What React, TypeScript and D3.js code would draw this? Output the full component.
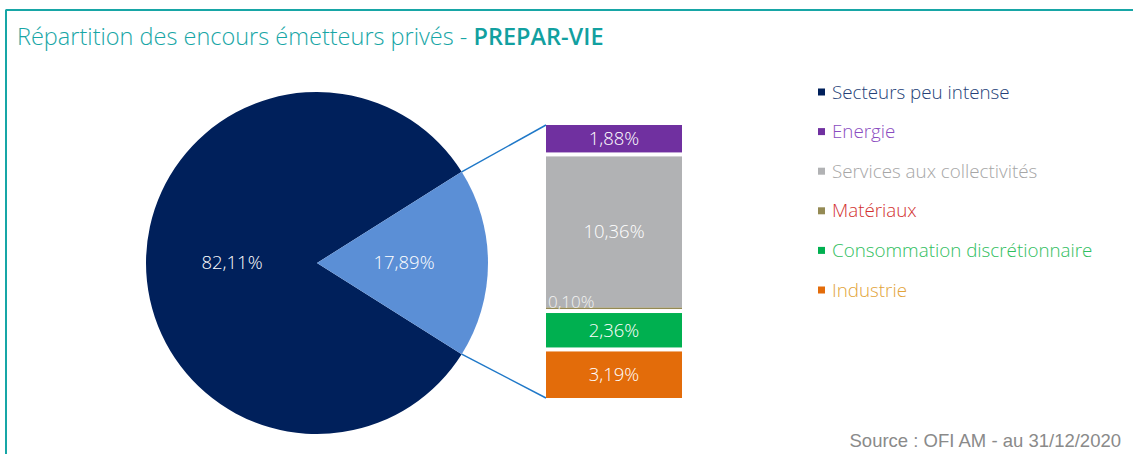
import React from "react";
import * as d3 from "d3";

// pie data
const pieLabels = ["Secteurs peu intense", "Autres"];
const pieValues = [82.11, 17.89];
const pieTexts = ["82,11%", "17,89%"];
const pieColors = ["#00205b", "#5b8fd6"];

// stacked breakdown of the 17,89% slice
const barLabels = ["Energie", "Services aux collectivités", "Matériaux", "Consommation discrétionnaire", "Industrie"];
const barValues = [1.88, 10.36, 0.1, 2.36, 3.19];
const barTexts = ["1,88%", "10,36%", "0,10%", "2,36%", "3,19%"];
const barColors = ["#7030a0", "#b1b2b4", "#948a54", "#00b050", "#e36c0a"];

const legendLabels = ["Secteurs peu intense", "Energie", "Services aux collectivités", "Matériaux", "Consommation discrétionnaire", "Industrie"];
const legendSwatch = ["#00205b", "#7030a0", "#b1b2b4", "#948a54", "#00b050", "#e36c0a"];
const legendText = ["#253f78", "#8a4cc0", "#a6a6a6", "#d2312f", "#2fbe5e", "#e2a43a"];

const W = 1133;
const H = 454;
const teal = "#17a6a6";
const font = "'Open Sans', Lato, sans-serif";

export default function App() {
  const cx = 317;
  const cy = 263;
  const r = 171;

  // small slice centred on the right (east)
  const smallAngle = (pieValues[1] / d3.sum(pieValues)) * 2 * Math.PI;
  const start = Math.PI / 2 - smallAngle / 2; // d3 angle 0 = north
  const pie = d3
    .pie<number>()
    .sort(null)
    .startAngle(start + smallAngle - 2 * Math.PI)
    .endAngle(start + smallAngle);
  const arcs = pie(pieValues);
  const arc = d3.arc<d3.PieArcDatum<number>>().innerRadius(0).outerRadius(r);

  // stacked bar
  const barX = 546;
  const barW = 136;
  const barTop = 125;
  const barBottom = 398;
  const gap = 4;
  const y = d3
    .scaleLinear()
    .domain([0, d3.sum(barValues)])
    .range([0, barBottom - barTop - 3 * gap]);

  let cursor = barTop;
  const blocks = barValues.map((v, i) => {
    const h = y(v);
    const b = { y: cursor, h, i };
    cursor += h;
    if (i !== 1) cursor += gap; // matériaux sits right under the grey block
    return b;
  });

  const p1x = cx + r * Math.cos(-smallAngle / 2);
  const p1y = cy + r * Math.sin(-smallAngle / 2);
  const p2y = cy + r * Math.sin(smallAngle / 2);
  const pieLabelX = [232, 404];

  return (
    <svg width={W} height={H} style={{ position: "absolute", left: 0, top: 0 }} fontFamily={font}>
      <rect width={W} height={H} fill="#fff" />
      {/* frame */}
      <line x1={5.5} x2={W} y1={10} y2={10} stroke={teal} strokeWidth={2} />
      <line x1={6} x2={6} y1={10} y2={H} stroke={teal} strokeWidth={2} />

      <text x={17} y={45} fontSize={23.5} fill={teal} fontWeight={300}>
        Répartition des encours émetteurs privés -{" "}
        <tspan fontWeight={600} fill="#12a0a0">PREPAR-VIE</tspan>
      </text>

      {/* pie */}
      <g transform={`translate(${cx},${cy})`}>
        {arcs.map((a, i) => (
          <path key={i} d={arc(a) || ""} fill={pieColors[i]} />
        ))}
      </g>
      {pieTexts.map((t, i) => (
        <text key={t} x={pieLabelX[i]} y={cy} dy="0.35em" textAnchor="middle" fill="#fff" fontSize={18.5} fontWeight={300}>
          {t}
        </text>
      ))}

      {/* connectors */}
      <line x1={p1x} y1={p1y} x2={barX} y2={barTop} stroke="#1f78c8" strokeWidth={1.5} />
      <line x1={p1x} y1={p2y} x2={barX} y2={barBottom} stroke="#1f78c8" strokeWidth={1.5} />

      {/* stacked bar */}
      {blocks.map((b) => (
        <rect key={b.i} x={barX} y={b.y} width={barW} height={b.h} fill={barColors[b.i]} />
      ))}
      {blocks.map((b) =>
        b.i === 2 ? (
          <text key={"t" + b.i} x={barX + 2} y={b.y} fill="#f2f2f2" fontSize={17} fontWeight={300}>
            {barTexts[b.i]}
          </text>
        ) : (
          <text
            key={"t" + b.i}
            x={barX + barW / 2}
            y={b.y + b.h / 2}
            dy="0.35em"
            textAnchor="middle"
            fill="#fff"
            fontSize={18.5}
            fontWeight={300}
          >
            {barTexts[b.i]}
          </text>
        )
      )}

      {/* legend */}
      {legendLabels.map((l, i) => (
        <g key={l} transform={`translate(818,${92 + i * 39.6})`}>
          <rect x={0} y={-3.5} width={7} height={7} fill={legendSwatch[i]} />
          <text x={14} y={0} dy="0.35em" fontSize={18.8} fill={legendText[i]} fontWeight={300}>
            {l}
          </text>
        </g>
      ))}

      <text x={1121} y={447} textAnchor="end" fontSize={18.5} fill="#8a8a8a" fontFamily="'Liberation Sans', Arial, sans-serif">
        Source : OFI AM - au 31/12/2020
      </text>
    </svg>
  );
}
